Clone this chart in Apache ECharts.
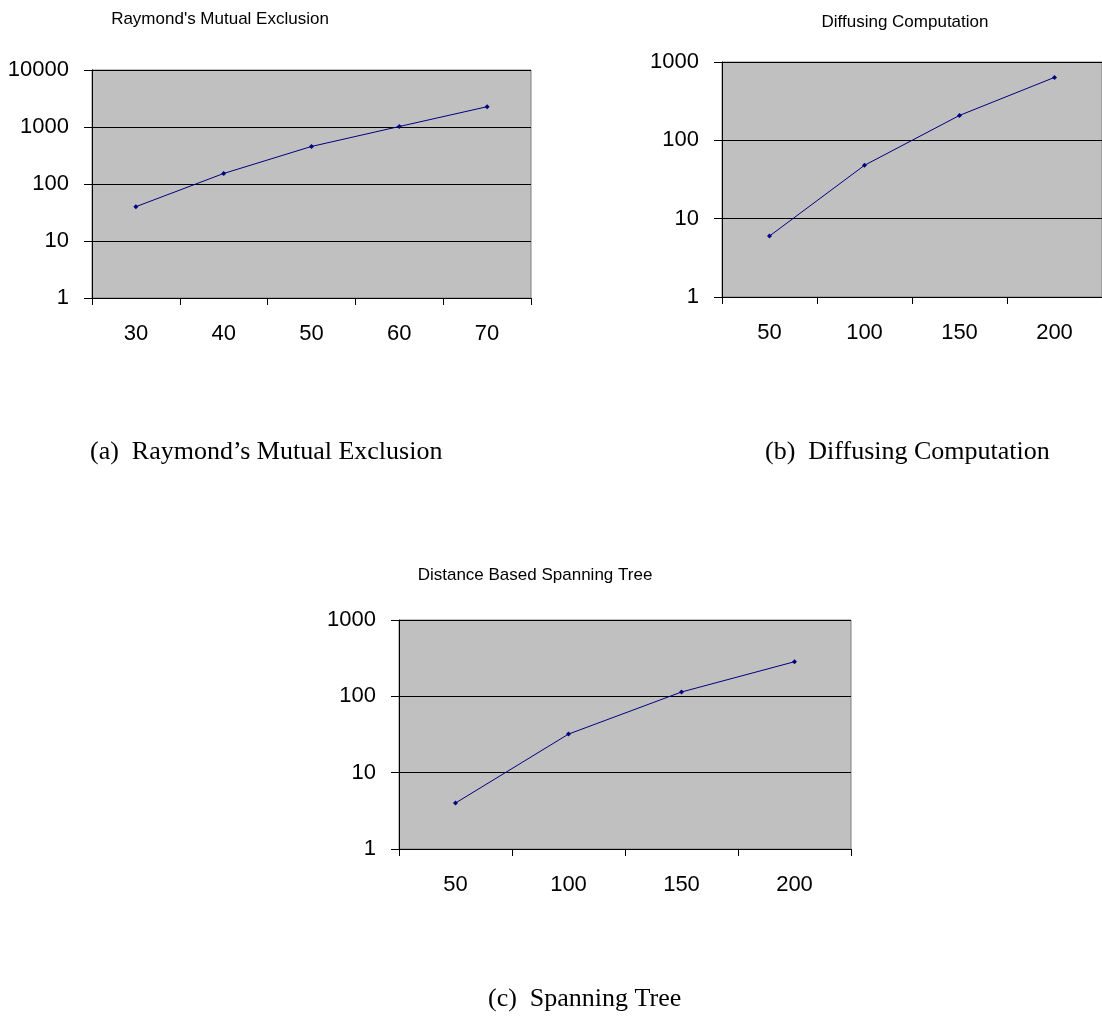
<!DOCTYPE html>
<html>
<head>
<meta charset="utf-8">
<script src="https://cdn.jsdelivr.net/npm/echarts@6/dist/echarts.min.js"></script>
<style>
html,body{margin:0;padding:0;background:#fff;}
#c{width:1102px;height:1017px;}
</style>
</head>
<body>
<div id="c"></div>
<script>
// Data
const catsA = ['30', '40', '50', '60', '70'];
const valsA = [40, 153, 456, 1020, 2270];
const catsB = ['50', '100', '150', '200'];
const valsB = [6, 48, 208, 636];
const catsC = ['50', '100', '150', '200'];
const valsC = [4, 32, 114, 284];
const titles = ["Raymond's Mutual Exclusion", 'Diffusing Computation', 'Distance Based Spanning Tree'];
const captions = ['(a)  Raymond\u2019s Mutual Exclusion', '(b)  Diffusing Computation', '(c)  Spanning Tree'];

const SANS = '"Liberation Sans", Arial, sans-serif';
const SERIF = '"Liberation Serif", "Times New Roman", serif';

const grids = [
  {left: 92, top: 70, width: 439, height: 228},
  {left: 722, top: 62, width: 388, height: 235},
  {left: 399, top: 620, width: 452, height: 229}
];
const yMax = [10000, 1000, 1000];
const cats = [catsA, catsB, catsC];
const vals = [valsA, valsB, valsC];

const titlePos = [[220, 19], [905, 22], [535, 575]];

function titleText(t, p) {
  return {
    type: 'text', x: p[0], y: p[1],
    style: {text: t, x: 0, y: 0, align: 'center', verticalAlign: 'middle',
            font: '17px ' + SANS, fill: '#000'}
  };
}

const option = {
  animation: false,
  backgroundColor: '#fff',
  grid: grids.map(g => Object.assign({show: true, backgroundColor: '#c0c0c0', borderColor: '#808080', borderWidth: 1}, g)),
  xAxis: cats.map((c, i) => ({
    type: 'category', gridIndex: i, data: c, boundaryGap: true,
    axisLine: {show: true, lineStyle: {color: '#000', width: 1}},
    axisTick: {show: true, inside: false, length: 7, lineStyle: {color: '#000'}},
    axisLabel: {fontFamily: SANS, fontSize: 22, color: '#000', margin: 25},
    splitLine: {show: false}
  })),
  yAxis: yMax.map((m, i) => ({
    type: 'log', logBase: 10, gridIndex: i, min: 1, max: m,
    axisLine: {show: true, lineStyle: {color: '#000', width: 1}},
    axisTick: {show: true, inside: false, length: 8, lineStyle: {color: '#000'}},
    axisLabel: {fontFamily: SANS, fontSize: 22, color: '#000', margin: 23, formatter: v => String(Math.round(v))},
    splitLine: {show: true, lineStyle: {color: '#000', width: 1}},
    minorTick: {show: false}, minorSplitLine: {show: false}
  })),
  series: vals.map((v, i) => ({
    type: 'line', xAxisIndex: i, yAxisIndex: i, data: v,
    symbol: 'diamond', symbolSize: 5, showSymbol: true,
    lineStyle: {color: '#000080', width: 1},
    itemStyle: {color: '#000080', borderWidth: 0}
  })),
  graphic: [
    titleText(titles[0], titlePos[0]),
    titleText(titles[1], titlePos[1]),
    titleText(titles[2], titlePos[2]),
    {type: 'text', left: 90, top: 439, style: {text: captions[0], font: '26px ' + SERIF, fill: '#000'}},
    {type: 'text', left: 765, top: 439, style: {text: captions[1], font: '26px ' + SERIF, fill: '#000'}},
    {type: 'text', left: 488, top: 986, style: {text: captions[2], font: '26px ' + SERIF, fill: '#000'}}
  ]
};

const chart = echarts.init(document.getElementById('c'), null, {renderer: 'canvas'});
chart.setOption(option);
</script>
</body>
</html>
